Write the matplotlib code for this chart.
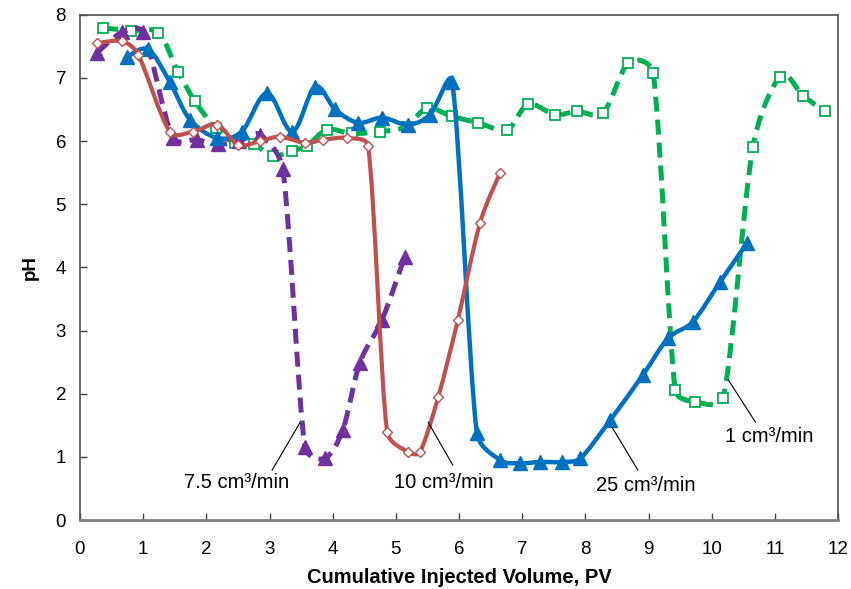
import numpy as np
import matplotlib
matplotlib.use("Agg")
import matplotlib.pyplot as plt
from matplotlib.path import Path
from matplotlib.patches import PathPatch

plt.rcParams['font.family'] = ['Liberation Sans', 'DejaVu Sans']

# pH vs cumulative injected volume for four injection rates
pv_1 = [0.37, 0.80, 1.24, 1.55, 1.82, 2.15, 2.45, 2.75, 3.05, 3.35, 3.59, 3.91, 4.30, 4.75,
        5.17, 5.49, 5.89, 6.30, 6.76, 7.09, 7.52, 7.87, 8.28, 8.68, 9.07, 9.42, 9.74,
        10.18, 10.65, 11.08, 11.45, 11.79]
ph_1 = [7.79, 7.75, 7.71, 7.10, 6.63, 6.20, 5.97, 5.95, 5.76, 5.85, 5.92, 6.18, 6.12, 6.15,
        6.23, 6.52, 6.39, 6.29, 6.18, 6.58, 6.42, 6.47, 6.45, 7.24, 7.08, 2.06, 1.87,
        1.93, 5.91, 7.02, 6.71, 6.47]

pv_75 = [0.27, 0.66, 1.00, 1.47, 1.85, 2.18, 2.52, 2.85, 3.21, 3.56, 3.88, 4.16, 4.43, 4.78, 5.14]
ph_75 = [7.40, 7.72, 7.72, 6.05, 6.02, 5.95, 6.00, 6.10, 5.55, 1.15, 0.98, 1.43, 2.49, 3.17, 4.17]

pv_10 = [0.27, 0.66, 0.92, 1.42, 1.79, 2.17, 2.50, 2.85, 3.17, 3.56, 3.85, 4.23, 4.56,
         4.86, 5.19, 5.38, 5.67, 5.98, 6.33, 6.65]
ph_10 = [7.55, 7.58, 7.37, 6.15, 6.15, 6.26, 5.94, 6.00, 6.07, 5.97, 6.02, 6.05, 5.92,
         1.40, 1.08, 1.08, 1.95, 3.17, 4.70, 5.50]

pv_25 = [0.74, 1.08, 1.42, 1.74, 2.17, 2.56, 2.96, 3.36, 3.72, 4.04, 4.40, 4.78, 5.19, 5.54,
         5.89, 6.28, 6.65, 6.97, 7.28, 7.63, 7.92, 8.39, 8.91, 9.31, 9.70, 10.13, 10.56]
ph_25 = [7.33, 7.45, 6.94, 6.34, 6.05, 6.15, 6.76, 6.15, 6.86, 6.50, 6.29, 6.37, 6.26, 6.42,
         6.94, 1.38, 0.95, 0.90, 0.92, 0.92, 0.98, 1.58, 2.30, 2.88, 3.14, 3.77, 4.39]

labels = ["1 cm³/min", "7.5 cm³/min", "10 cm³/min", "25 cm³/min"]


def smooth_path(x, y, f=1/6, limit=0.4):
    # excel-like smoothed line: cubic bezier segments through the points
    p = np.column_stack([x, y])
    n = len(p)
    verts = [p[0]]
    codes = [Path.MOVETO]
    for i in range(n - 1):
        p0 = p[i - 1] if i > 0 else p[i]
        p1, p2 = p[i], p[i + 1]
        p3 = p[i + 2] if i + 2 < n else p[i + 1]
        seg = np.hypot(*(p2 - p1))
        t1 = (p2 - p0) * f
        t2 = (p3 - p1) * f
        for t in (t1, t2):
            l = np.hypot(*t)
            if l > limit * seg:
                t *= limit * seg / l
        verts += [p1 + t1, p2 - t2, p2]
        codes += [Path.CURVE4] * 3
    return Path(verts, codes)


fig = plt.figure(figsize=(8.51, 5.89), dpi=100)
ax = fig.add_axes([0.094, 0.117, 0.891, 0.858])

green = "#00B050"
purple = "#7030A0"
blue = "#0070C0"
red = "#C0504D"

# 1 cm3/min
ax.add_patch(PathPatch(smooth_path(pv_1, ph_1), fc="none", ec=green, lw=3.6,
                       ls=(0, (3, 1.6)), zorder=2))
ax.plot(pv_1, ph_1, ls="none", marker="s", ms=7.5, mfc="white", mec=green, mew=1.3, zorder=2.1)

# 7.5 cm3/min
ax.add_patch(PathPatch(smooth_path(pv_75, ph_75), fc="none", ec=purple, lw=3.6,
                       ls=(0, (3, 1.6)), zorder=3))
ax.plot(pv_75, ph_75, ls="none", marker="^", ms=10, color=purple, zorder=3.1)

# 25 cm3/min
ax.add_patch(PathPatch(smooth_path(pv_25, ph_25), fc="none", ec=blue, lw=3.2, zorder=4))
ax.plot(pv_25, ph_25, ls="none", marker="^", ms=10, color=blue, zorder=4.1)

# 10 cm3/min
ax.add_patch(PathPatch(smooth_path(pv_10, ph_10), fc="none", ec=red, lw=3.0, zorder=5))
ax.plot(pv_10, ph_10, ls="none", marker="D", ms=5.5, mfc="white", mec=red, mew=1.0, zorder=5.1)

# labels with leader lines
notes = [
    (labels[1], (3.48, 1.54), (3.04, 0.79), (2.47, 0.59)),
    (labels[2], (5.51, 1.55), (5.90, 0.87), (5.75, 0.59)),
    (labels[3], (8.42, 1.47), (8.83, 0.79), (8.96, 0.55)),
    (labels[0], (10.26, 2.22), (10.69, 1.55), (10.91, 1.32)),
]
for txt, a, b, pos in notes:
    ax.plot([a[0], b[0]], [a[1], b[1]], color="black", lw=0.8, zorder=6)
    ax.text(pos[0], pos[1], txt, ha="center", va="center", fontsize=14.5, zorder=6)

ax.set_xlim(0, 12)
ax.set_ylim(0, 8)
ax.set_xticks(range(0, 13))
ax.set_yticks(range(0, 9))
ax.tick_params(direction="in", length=5, width=1, labelsize=13.5, color="#404040")
ax.tick_params(axis="x", pad=15)
ax.tick_params(axis="y", pad=10)
for s in ax.spines.values():
    s.set_color("#505050")
    s.set_linewidth(1.2)
ax.spines["bottom"].set_color("#808080")
ax.spines["bottom"].set_linewidth(2)

ax.set_xlabel("Cumulative Injected Volume, PV", fontsize=14.5, fontweight="bold", labelpad=7)
ax.set_ylabel("pH", fontsize=13.5, fontweight="bold", labelpad=12)

fig.savefig("out.png", dpi=100)
